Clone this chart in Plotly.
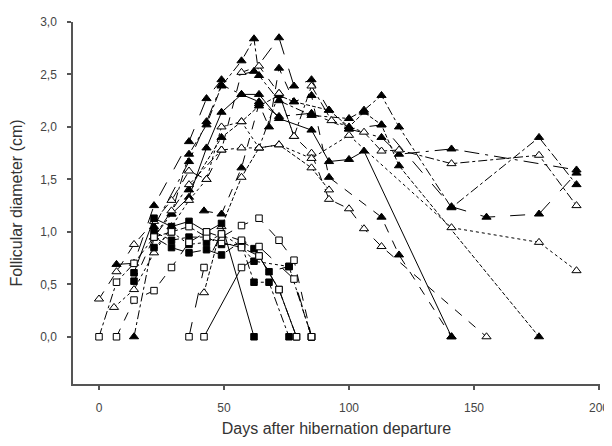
import plotly.graph_objects as go

# ---------------- data (days after hibernation departure, follicle diameter cm) ----------------
# filled triangles
ft1_d = [14, 22, 29, 36, 43, 49, 57, 62, 64, 72, 85, 100, 106, 113, 120, 141, 176, 191]
ft1_v = [0.00, 0.95, 1.17, 1.74, 2.02, 2.39, 2.63, 2.84, 2.49, 2.25, 2.11, 2.08, 2.16, 2.30, 2.00, 1.23, 1.90, 1.45]
ft2_d = [7, 14, 22, 36, 43, 49, 62, 72, 78, 85, 92, 100, 113, 141, 155, 176, 191]
ft2_v = [0.69, 0.70, 1.25, 1.86, 2.27, 2.45, 2.53, 2.85, 2.39, 2.45, 2.16, 1.98, 2.02, 1.24, 1.14, 1.17, 1.56]
ft3_d = [29, 36, 43, 49, 57, 64, 72, 85, 92, 100, 106, 141]
ft3_v = [1.17, 1.33, 1.80, 2.14, 2.31, 2.31, 2.08, 1.97, 1.67, 1.69, 1.77, 0.00]
ft4_d = [42, 49, 57, 64, 68, 72, 78, 85, 92, 113, 120, 141]
ft4_v = [1.20, 1.17, 1.61, 2.22, 2.00, 2.56, 2.24, 2.30, 1.52, 1.14, 0.78, 0.00]
ft5_d = [22, 36, 43, 49, 57, 64, 72, 85, 100, 113, 120, 141, 191]
ft5_v = [1.05, 1.67, 2.05, 2.40, 2.31, 2.24, 2.10, 2.13, 1.98, 1.90, 1.74, 1.79, 1.59]
ft6_d = [36, 49, 57, 64, 72, 78, 92, 100, 106, 113, 120, 176]
ft6_v = [1.40, 1.90, 2.05, 2.20, 2.30, 2.24, 2.16, 2.00, 2.14, 2.02, 1.63, 0.00]

# open triangles
ot1_d = [0, 7, 14, 22, 29, 36, 43, 49, 57, 64, 72, 78, 85, 92, 100, 106, 113, 155]
ot1_v = [0.36, 0.62, 0.88, 1.10, 1.30, 1.58, 1.50, 1.78, 2.52, 2.58, 2.32, 1.91, 1.75, 1.31, 1.22, 1.03, 0.86, 0.00]
ot2_d = [6, 14, 22, 29, 36, 43, 49, 57, 64, 72, 85, 100, 141, 176, 191]
ot2_v = [0.28, 0.45, 0.80, 1.05, 1.30, 1.50, 2.00, 2.05, 1.80, 1.83, 1.70, 1.92, 1.04, 0.90, 0.63]
ot3_d = [22, 29, 36, 49, 57, 64, 72, 78, 85, 93, 106, 113, 120, 141, 176, 191]
ot3_v = [0.95, 1.20, 1.45, 1.78, 1.80, 1.80, 2.32, 1.91, 2.39, 2.06, 1.95, 1.77, 1.78, 1.65, 1.73, 1.25]
ot4_d = [42, 49, 57, 64, 72, 85, 92]
ot4_v = [0.42, 1.05, 1.52, 1.80, 1.83, 1.61, 1.40]

# filled squares
fs1_d = [14, 22, 29, 36, 43, 49, 62]
fs1_v = [0.61, 1.13, 1.05, 1.10, 1.00, 1.08, 0.00]
fs2_d = [14, 22, 29, 36, 43, 49, 57, 62, 68, 76, 85]
fs2_v = [0.53, 0.95, 0.85, 0.80, 0.83, 0.78, 0.91, 0.84, 0.62, 0.67, 0.00]
fs3_d = [22, 29, 36, 43, 49, 57, 62, 68, 76]
fs3_v = [1.00, 0.92, 0.95, 0.95, 0.88, 0.88, 0.52, 0.52, 0.00]
fs4_d = [22, 29, 36, 43, 49, 57, 62, 76, 85]
fs4_v = [0.85, 1.00, 0.88, 0.90, 0.98, 0.86, 0.72, 0.67, 0.00]

# open squares
os1_d = [0, 7, 14, 22, 29, 36, 43, 49, 57, 64, 72, 79]
os1_v = [0.00, 0.52, 0.70, 0.95, 1.00, 1.05, 0.95, 0.90, 0.85, 0.77, 0.45, 0.00]
os2_d = [7, 14, 22, 29, 36, 43, 49, 57, 64, 72, 78, 85]
os2_v = [0.00, 0.35, 0.44, 0.66, 0.90, 1.00, 0.95, 1.06, 1.13, 0.92, 0.73, 0.00]
os3_d = [36, 42, 49, 57, 64, 78, 85]
os3_v = [0.00, 0.66, 0.98, 0.92, 0.86, 0.55, 0.00]
os4_d = [42, 57, 64, 72, 79]
os4_v = [0.00, 0.66, 0.77, 0.45, 0.00]

x_ticks = [0, 50, 100, 150, 200]
y_ticks = [0.0, 0.5, 1.0, 1.5, 2.0, 2.5, 3.0]

# ---------------- styles ----------------
series = [
    (ft1_d, ft1_v, "triangle-up", True, "dashdot"),
    (ft2_d, ft2_v, "triangle-up", True, "longdash"),
    (ft3_d, ft3_v, "triangle-up", True, "solid"),
    (ft4_d, ft4_v, "triangle-up", True, "dash"),
    (ft5_d, ft5_v, "triangle-up", True, "longdashdot"),
    (ft6_d, ft6_v, "triangle-up", True, "4px,2px"),
    (ot1_d, ot1_v, "triangle-up", False, "dash"),
    (ot2_d, ot2_v, "triangle-up", False, "dot"),
    (ot3_d, ot3_v, "triangle-up", False, "dashdot"),
    (ot4_d, ot4_v, "triangle-up", False, "4px,2px"),
    (fs1_d, fs1_v, "square", True, "solid"),
    (fs2_d, fs2_v, "square", True, "dash"),
    (fs3_d, fs3_v, "square", True, "dashdot"),
    (fs4_d, fs4_v, "square", True, "dot"),
    (os1_d, os1_v, "square", False, "dashdot"),
    (os2_d, os2_v, "square", False, "dash"),
    (os3_d, os3_v, "square", False, "longdash"),
    (os4_d, os4_v, "square", False, "solid"),
]

fig = go.Figure()
for d, v, sym, filled, dash in series:
    fig.add_trace(go.Scatter(
        x=d, y=v, mode="lines+markers",
        line=dict(color="black", width=1, dash=dash),
        marker=dict(symbol=sym, size=8 if sym == "triangle-up" else 6.5,
                    color="black" if filled else "white",
                    line=dict(color="black", width=1)),
        showlegend=False, hoverinfo="skip",
    ))

axis_col = "#555555"
fig.update_layout(
    width=612, height=446,
    margin=dict(l=65, r=20, t=7, b=70),
    paper_bgcolor="white", plot_bgcolor="white",
    separators=",.",
    font=dict(family="Liberation Sans, Arial, sans-serif", color="#333333"),
    xaxis=dict(
        range=[-10.4, 200.4], tickvals=x_ticks, ticktext=[str(t) for t in x_ticks],
        showgrid=False, zeroline=False, showline=True, linecolor=axis_col, linewidth=1.5,
        ticks="outside", ticklen=4, tickcolor=axis_col, tickwidth=1.5,
        ticklabelstandoff=8,
        tickfont=dict(size=12, color="#444444"),
        title=dict(text="Days after hibernation departure", font=dict(size=16, color="#333333"), standoff=9),
    ),
    yaxis=dict(
        range=[-0.45, 3.0], tickvals=y_ticks, tickformat=".1f",
        showgrid=False, zeroline=False, showline=True, linecolor=axis_col, linewidth=1.5,
        ticks="outside", ticklen=4, tickcolor=axis_col, tickwidth=1.5,
        ticklabelstandoff=8,
        tickfont=dict(size=12, color="#444444"),
        title=dict(text="Follicular diameter (cm)", font=dict(size=16, color="#333333"), standoff=14),
    ),
)

fig.write_html("out.html")
